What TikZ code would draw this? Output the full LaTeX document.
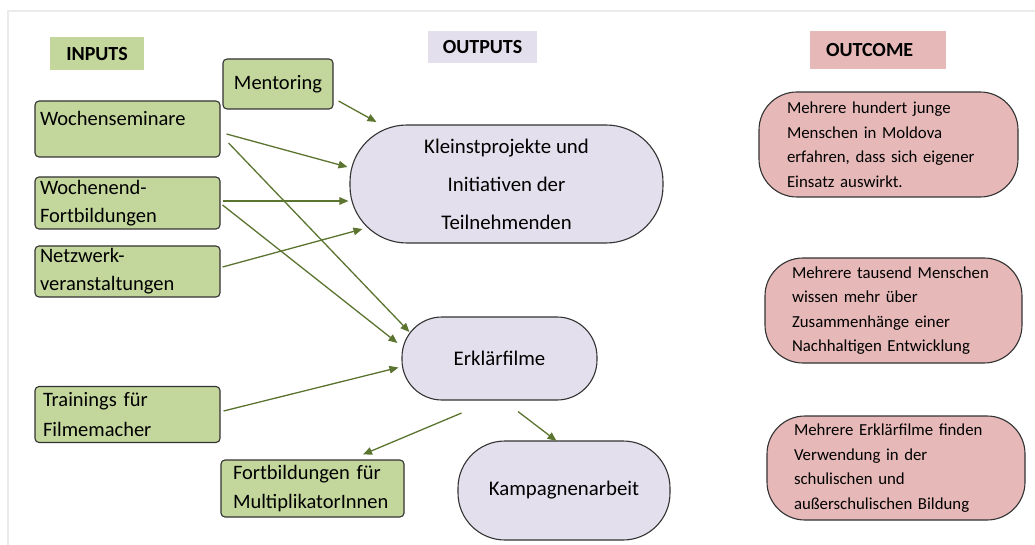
\documentclass[tikz,border=0pt]{standalone}
\usepackage{fontspec}
\setmainfont{Carlito}
\usetikzlibrary{arrows.meta}
\definecolor{ingreen}{HTML}{C3D69B}
\definecolor{outlav}{HTML}{E4DFEC}
\definecolor{ocpink}{HTML}{E6B9B8}
\definecolor{arrcol}{HTML}{5B7430}
\definecolor{bord}{HTML}{333333}
\definecolor{framecol}{HTML}{EBEBEB}
\begin{document}
\begin{tikzpicture}[x=1pt,y=-1pt,
 inbox/.style={draw=bord, line width=1.1pt, fill=ingreen, rounded corners=4pt, inner ysep=0pt, align=left, font=\fontsize{20.5}{28}\selectfont},
 outshape/.style={draw=bord, line width=1.1pt, fill=outlav, align=center, inner sep=0pt, font=\fontsize{20.8}{38}\selectfont},
 ocbox/.style={draw=bord, line width=1.1pt, fill=ocpink, rounded corners=38pt, inner xsep=27pt, inner ysep=0pt, align=left, font=\fontsize{16.8}{24.5}\selectfont},
 head/.style={inner sep=0pt, font=\fontsize{20}{24}\selectfont\bfseries},
 conn/.style={draw=arrcol, line width=1.3pt, -{Triangle[length=9pt,width=7.5pt]}}
]
\useasboundingbox (0,0) rectangle (1035,545);
\fill[white] (0,0) rectangle (1035,545);
\draw[framecol, line width=2pt] (7.5,545) -- (7.5,11.5) -- (1035,11.5);

% headers
\node[head, fill=ingreen, minimum width=94pt, minimum height=33pt] (hin) at (97,54) {INPUTS};
\node[head, fill=outlav, minimum width=109pt, minimum height=32pt] (hout) at (482.5,47) {OUTPUTS};
\node[head, fill=ocpink, minimum width=136pt, minimum height=38pt, inner xsep=16pt, text width=104pt, align=left] (hoc) at (878,50) {OUTCOME};

% inputs
\node[inbox, minimum width=110pt, minimum height=50pt, align=center] (ment) at (278,84) {Mentoring};
\node[inbox, minimum width=185pt, minimum height=56pt, inner xsep=5pt, text width=175pt] (ws) at (127.5,129) {Wochenseminare\\[-16pt]\strut};
\node[inbox, minimum width=185pt, minimum height=52pt, inner xsep=5pt, text width=175pt] (we) at (127.5,203) {Wochenend-\\Fortbildungen};
\node[inbox, minimum width=185pt, minimum height=51pt, inner xsep=5pt, text width=175pt] (nw) at (127.5,271.5) {Netzwerk-\\veranstaltungen};
\node[inbox, minimum width=185pt, minimum height=56pt, inner xsep=8pt, text width=169pt, font=\fontsize{20.5}{30}\selectfont] (tr) at (127.5,414.5) {Trainings für\\Filmemacher};
\node[inbox, minimum width=183pt, minimum height=57pt, inner xsep=12pt, text width=159pt, font=\fontsize{20.5}{29}\selectfont] (fb) at (312.5,488.5) {Fortbildungen für\\MultiplikatorInnen};

% outputs
\node[outshape, rounded corners=57pt, minimum width=313pt, minimum height=118pt] (kp) at (506.5,184) {Kleinstprojekte und\\Initiativen der\\Teilnehmenden};
\node[outshape, rounded corners=40pt, minimum width=195pt, minimum height=83pt] (ef) at (499.5,358.5) {Erklärfilme};
\node[outshape, rounded corners=47pt, minimum width=212pt, minimum height=99pt] (ka) at (564,490.5) {Kampagnenarbeit};

% outcomes
\node[ocbox, minimum width=259pt, minimum height=105pt, inner xsep=28pt, text width=203pt] (oc1) at (888.5,144.5) {Mehrere hundert junge\\Menschen in Moldova\\erfahren, dass sich eigener\\Einsatz auswirkt.};
\node[ocbox, minimum width=257pt, minimum height=105pt, text width=203pt] (oc2) at (893.5,310.5) {Mehrere tausend Menschen\\wissen mehr über\\Zusammenhänge einer\\Nachhaltigen Entwicklung};
\node[ocbox, minimum width=258pt, minimum height=104pt, text width=204pt] (oc3) at (896,468) {Mehrere Erklärfilme finden\\Verwendung in der\\schulischen und\\außerschulischen Bildung};

% connectors
\draw[conn] ([shift={(5,17)}]ment.east) -- ([shift={(27,-62)}]kp.west);
\draw[conn] ([shift={(6,5)}]ws.east) -- ([shift={(-2,-17)}]kp.west);
\draw[conn] ([shift={(8,14)}]ws.east) -- ([shift={(8,-26.5)}]ef.west);
\draw[conn] ([shift={(2,-2)}]we.east) -- ([shift={(-1,17)}]kp.west);
\draw[conn] ([shift={(2,2)}]we.east) -- ([shift={(-4,-15.5)}]ef.west);
\draw[conn] ([shift={(2,-4.5)}]nw.east) -- ([shift={(13,45)}]kp.west);
\draw[conn] ([shift={(3,-3.5)}]tr.east) -- ([shift={(-3,9)}]ef.west);
\draw[conn] ([shift={(-38,12.5)}]ef.south) -- ([shift={(50.5,-5)}]fb.north);
\draw[conn] ([shift={(18.5,11)}]ef.south) -- ([shift={(-7.5,0.5)}]ka.north);
\end{tikzpicture}
\end{document}
